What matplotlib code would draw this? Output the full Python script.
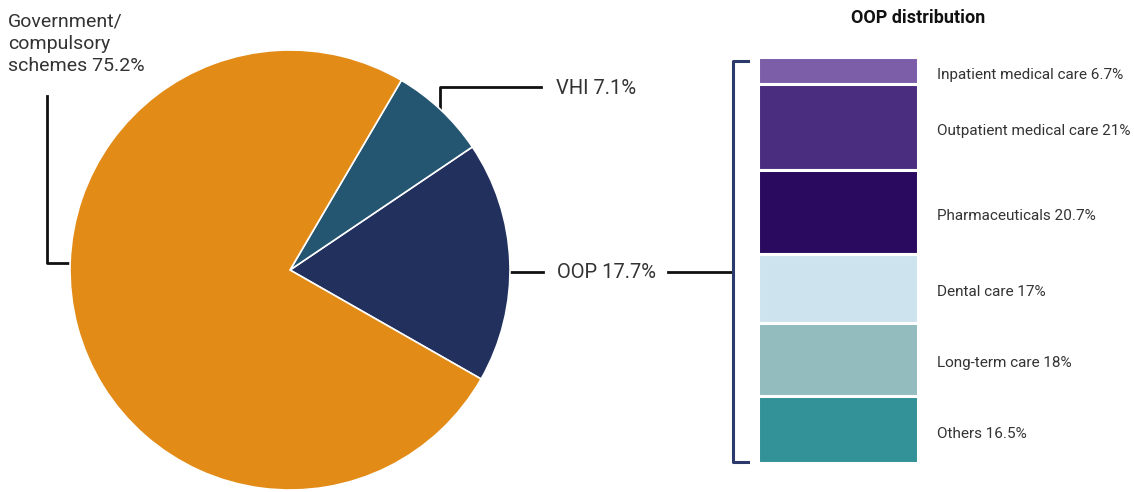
import matplotlib.pyplot as plt
import numpy as np

plt.rcParams['font.family'] = ['Roboto', 'DejaVu Sans']

# pie data (counterclockwise order from the OOP slice)
pie_labels = ['OOP', 'VHI', 'Government/\ncompulsory\nschemes']
pie_values = [17.7, 7.1, 75.2]
pie_colors = ['#22305E', '#245571', '#E38B17']

# OOP breakdown, top to bottom
oop_labels = ['Inpatient medical care', 'Outpatient medical care', 'Pharmaceuticals',
              'Dental care', 'Long-term care', 'Others']
oop_values = [6.7, 21, 20.7, 17, 18, 16.5]
oop_colors = ['#7B5EA7', '#4B2D7F', '#2A0A5E', '#CDE4EE', '#93BCBF', '#339297']

W, H = 1134, 492
fig = plt.figure(figsize=(W / 100, H / 100), dpi=100)
txt = '#333333'

def box(x0, y0, x1, y1):
    # pixel box (top-left origin) -> figure fraction
    return [x0 / W, 1 - y1 / H, (x1 - x0) / W, (y1 - y0) / H]

# overlay for leader lines / labels in pixel coordinates
ov = fig.add_axes([0, 0, 1, 1])
ov.set_xlim(0, W)
ov.set_ylim(H, 0)
ov.axis('off')

# pie
cx, cy, r = 290, 270, 220
axp = fig.add_axes(box(cx - r, cy - r, cx + r, cy + r))
axp.pie(pie_values, colors=pie_colors, startangle=-29.7, counterclock=True,
        radius=1, wedgeprops=dict(edgecolor='white', linewidth=1.2))
axp.set_xlim(-1, 1)
axp.set_ylim(-1, 1)
axp.axis('off')

# stacked bar
axb = fig.add_axes(box(758, 57, 918, 463))
bottoms = np.concatenate([[0], np.cumsum(oop_values)[:-1]])
axb.bar(0, oop_values, bottom=bottoms, width=1, color=oop_colors,
        edgecolor='white', linewidth=2.2)
axb.set_xlim(-0.5, 0.5)
axb.set_ylim(sum(oop_values), 0)
axb.axis('off')
for lab, v, b in zip(oop_labels, oop_values, bottoms):
    axb.text(0.62, b + v / 2 + 1.0, f'{lab} {v:g}%', va='center', ha='left',
             fontsize=11, color=txt, clip_on=False)

fig.text(918 / W, 1 - 18 / H, 'OOP distribution', ha='center', va='center',
         fontsize=13, fontweight='bold', color='#111111')

# labels and leader lines
lw = 2.0
ov.text(8, 44, 'Government/\ncompulsory\nschemes ' + f'{pie_values[2]}%',
        ha='left', va='center', fontsize=14, color=txt, linespacing=1.3)
ov.plot([47, 47, 68], [96, 263, 263], color='#111111', lw=lw)

ov.text(556, 89, f'VHI {pie_values[1]}%', ha='left', va='center', fontsize=14.5, color=txt)
ov.plot([440, 440, 541], [112, 87, 87], color='#111111', lw=lw)

ov.text(557, 273, f'OOP {pie_values[0]}%', ha='left', va='center', fontsize=14.5, color=txt)
ov.plot([511, 543], [272, 272], color='#111111', lw=lw)
ov.plot([668, 733], [272, 272], color='#111111', lw=lw)

# bracket
ov.plot([748, 733, 733, 748], [61, 61, 462, 462], color='#2B3A6B', lw=2.2)

fig.savefig('out.png', dpi=100, facecolor='white')
